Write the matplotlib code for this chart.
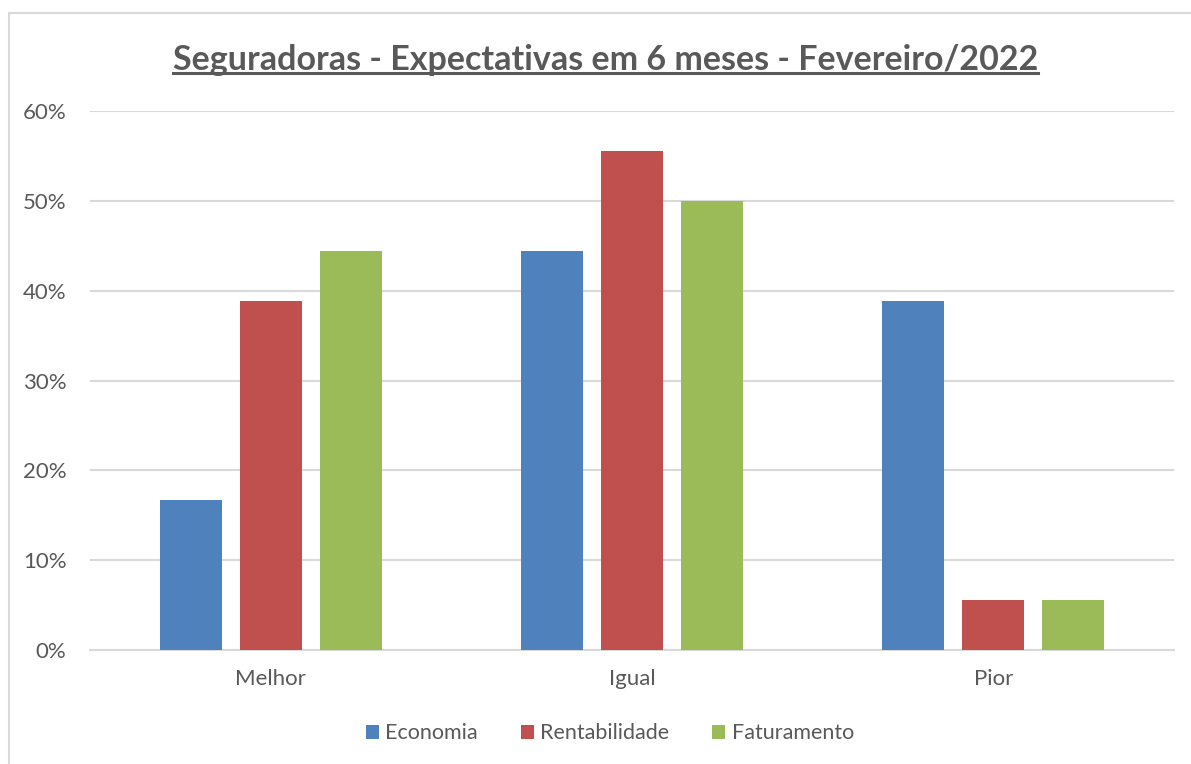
import numpy as np
import matplotlib.pyplot as plt
from matplotlib.patches import Rectangle
from matplotlib.ticker import PercentFormatter

plt.rcParams['font.family'] = ['Lato', 'DejaVu Sans']

# dados
categorias = ['Melhor', 'Igual', 'Pior']
economia = [0.167, 0.444, 0.389]
rentabilidade = [0.389, 0.556, 0.056]
faturamento = [0.444, 0.500, 0.056]
series = ['Economia', 'Rentabilidade', 'Faturamento']
cores = ['#4F81BD', '#C0504D', '#9BBB59']
cinza = '#595959'

fig = plt.figure(figsize=(11.91, 7.64), dpi=100)
ax = fig.add_axes([0.0756, 0.1492, 0.9101, 0.7055])

x = np.arange(len(categorias))
largura = 0.172
for i, (vals, nome, cor) in enumerate(zip([economia, rentabilidade, faturamento], series, cores)):
    ax.bar(x + (i - 1) * 0.2216, vals, largura, color=cor, label=nome, zorder=3)

ax.set_xlim(-0.5, 2.5)
ax.set_ylim(0, 0.6)
ax.set_yticks(np.arange(0, 0.61, 0.1))
ax.yaxis.set_major_formatter(PercentFormatter(1.0, decimals=0))
ax.set_xticks(x)
ax.set_xticklabels(categorias)
ax.grid(axis='y', color='#D9D9D9', linewidth=1.5, zorder=0)
for s in ['top', 'right', 'left']:
    ax.spines[s].set_visible(False)
ax.spines['bottom'].set_color('#D9D9D9')
ax.spines['bottom'].set_linewidth(1.5)
ax.tick_params(axis='both', length=0, labelsize=16, labelcolor=cinza)
ax.tick_params(axis='y', pad=17)
ax.tick_params(axis='x', pad=14)

# borda do gráfico
fig.patches.append(Rectangle((9 / 1191, -0.1), 1.2, 1 - 13 / 764 + 0.1,
                             transform=fig.transFigure, fill=False,
                             edgecolor='#D9D9D9', linewidth=1.5))

titulo = fig.text(0.5085, 0.922, 'Seguradoras - Expectativas em 6 meses - Fevereiro/2022',
                  ha='center', va='center', fontsize=24.5, fontweight='bold', color=cinza)

fig.legend(loc='center', bbox_to_anchor=(0.512, 0.040), ncol=3, frameon=False,
           fontsize=15.5, labelcolor=cinza, handlelength=0.6, handleheight=0.6,
           handletextpad=0.3, columnspacing=2.0)

# sublinhado do título
fig.canvas.draw()
bb = titulo.get_window_extent().transformed(fig.transFigure.inverted())
fig.add_artist(plt.Line2D([bb.x0, bb.x1], [bb.y0 + 0.004, bb.y0 + 0.004],
                          transform=fig.transFigure, color=cinza, linewidth=2.2))

fig.savefig('out.png', dpi=100)
